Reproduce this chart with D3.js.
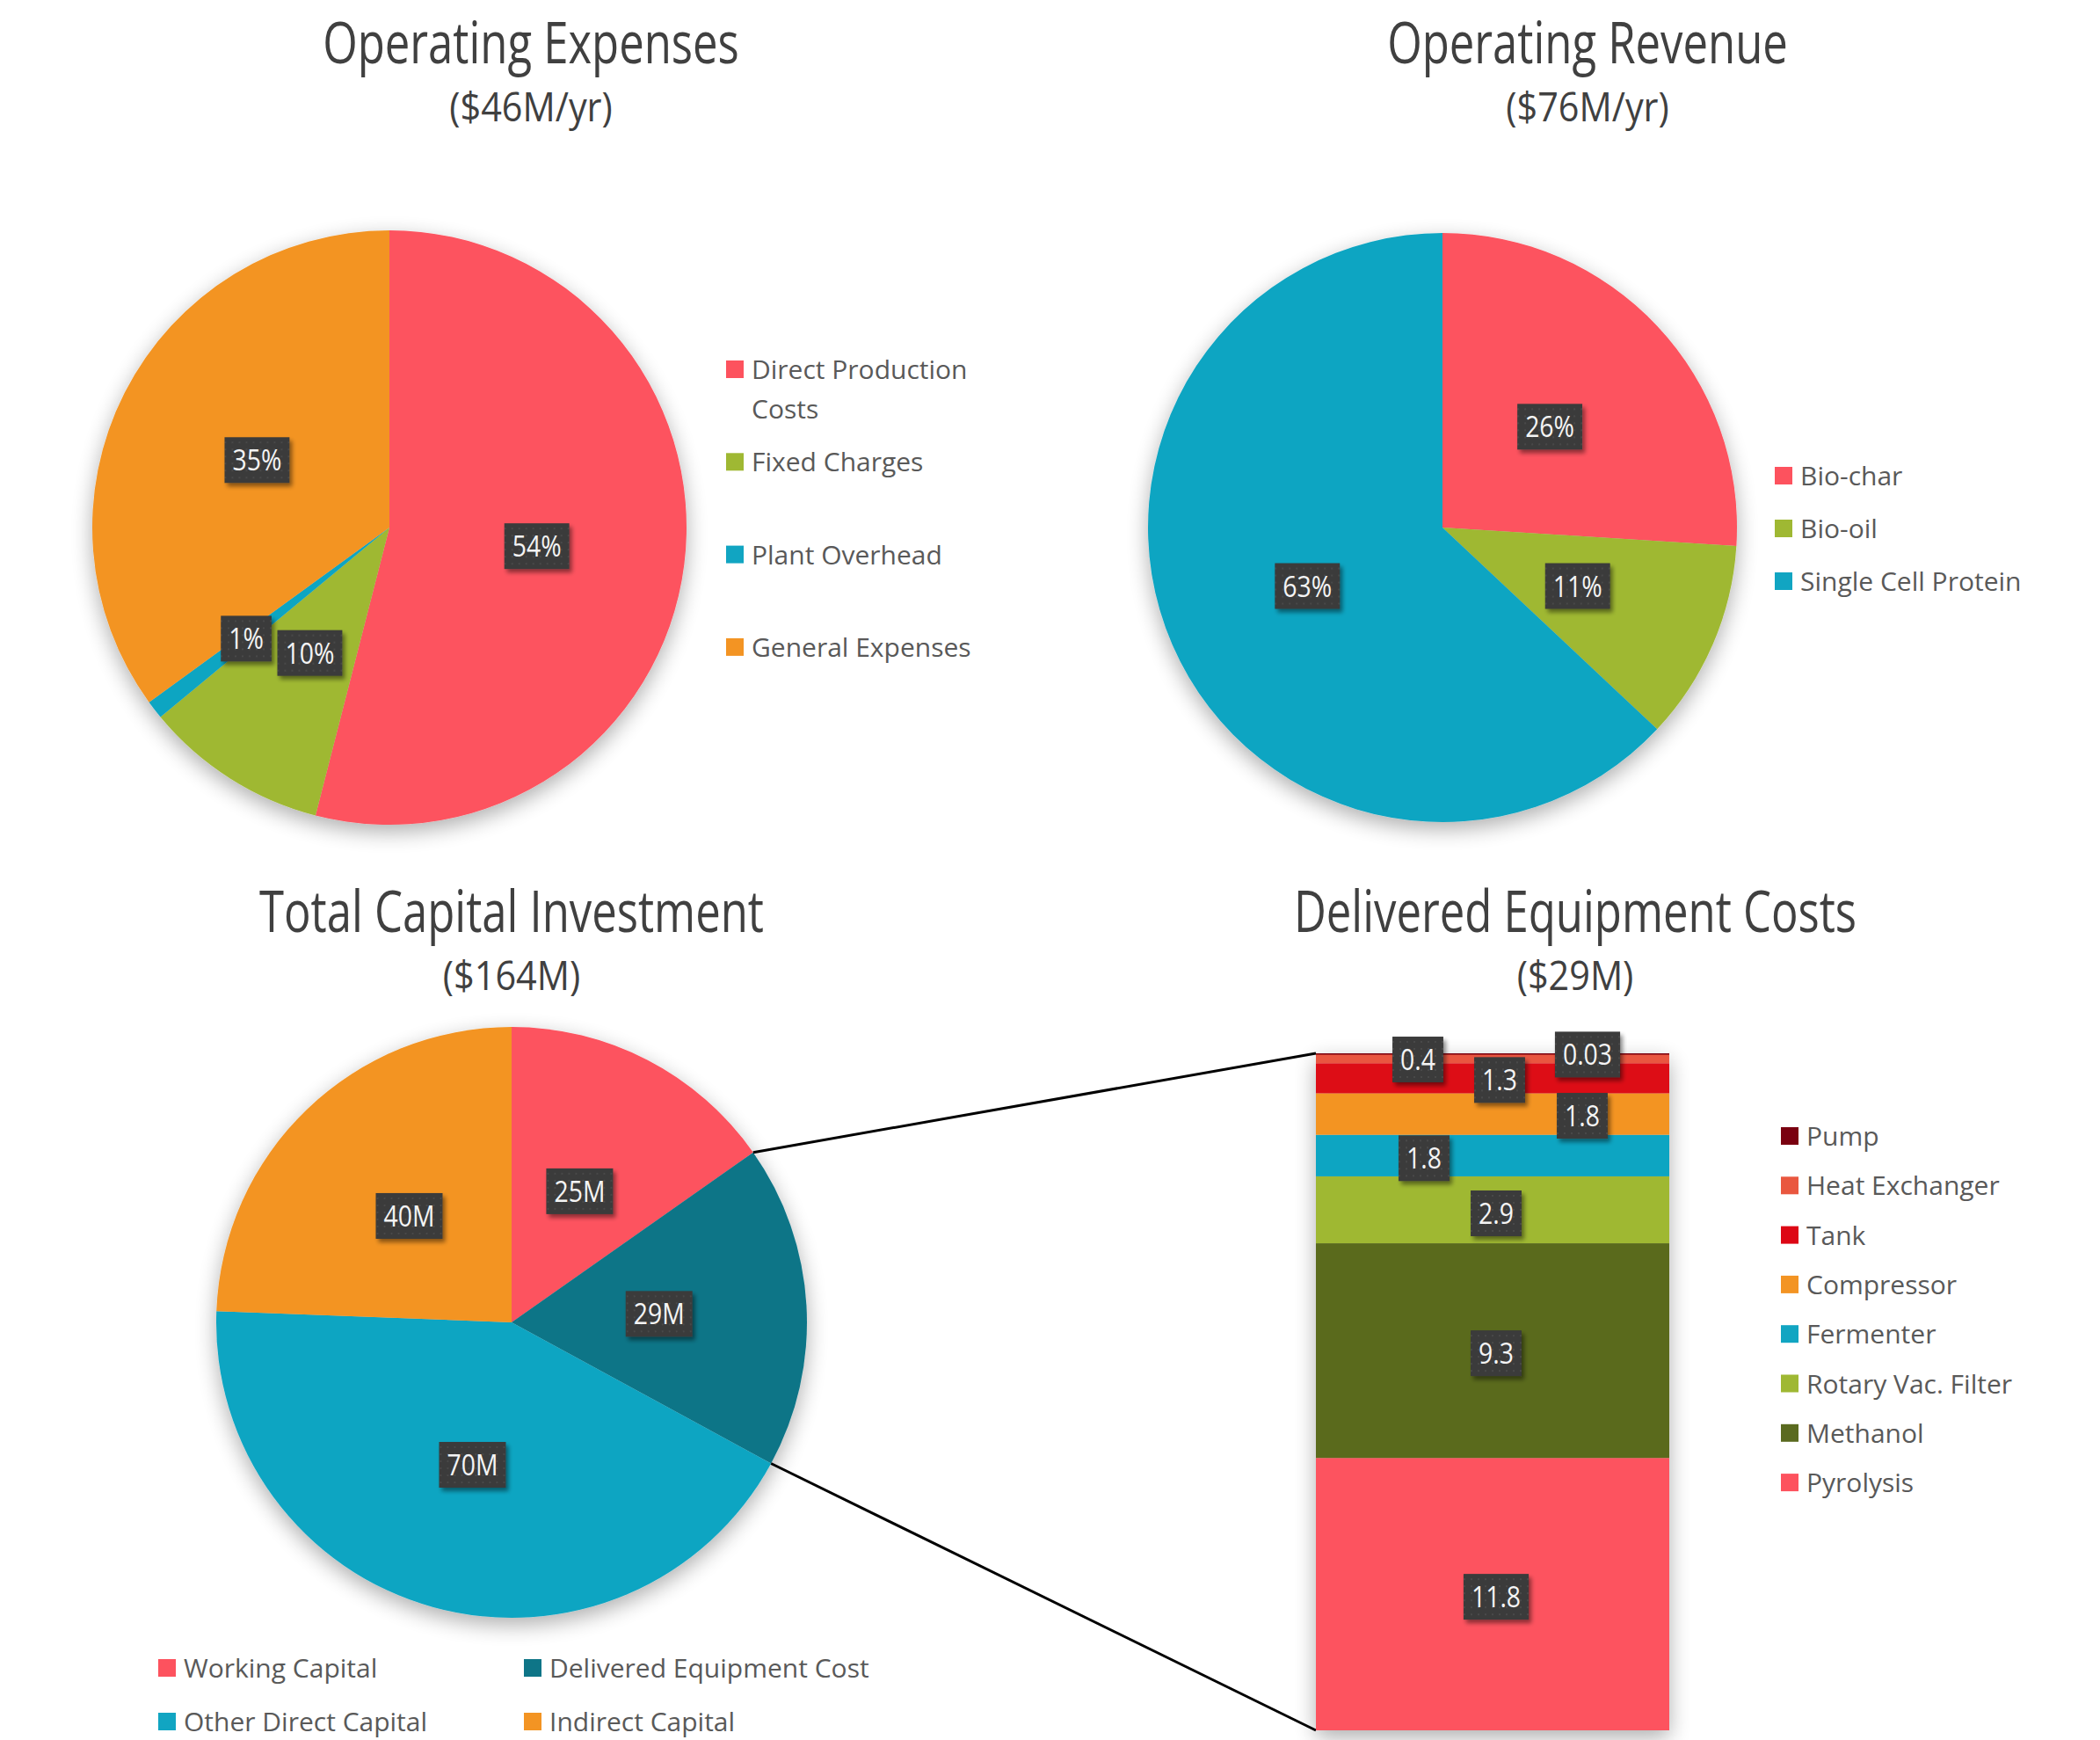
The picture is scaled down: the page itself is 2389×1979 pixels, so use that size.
<!DOCTYPE html>
<html>
<head>
<meta charset="utf-8">
<script src="https://cdn.jsdelivr.net/npm/d3@7"></script>
<style>
  html, body { margin: 0; padding: 0; background: #fff; }
  svg { display: block; font-family: "Open Sans", "Noto Sans", sans-serif; }
</style>
</head>
<body>
<div id="chart"></div>
<script>
// --- Datos ---
const opexCats = ["Direct Production Costs", "Fixed Charges", "Plant Overhead", "General Expenses"];
const opexPct = [54, 10, 1, 35];
const revCats = ["Bio-char", "Bio-oil", "Single Cell Protein"];
const revPct = [26, 11, 63];
const capCats = ["Working Capital", "Delivered Equipment Cost", "Other Direct Capital", "Indirect Capital"];
const capVals = [25, 29, 70, 40];
const equipCats = ["Pyrolysis", "Methanol", "Rotary Vac. Filter", "Fermenter", "Compressor", "Tank", "Heat Exchanger", "Pump"];
const equipVals = [11.8, 9.3, 2.9, 1.8, 1.8, 1.3, 0.4, 0.03];
const titles = ["Operating Expenses", "Operating Revenue", "Total Capital Investment", "Delivered Equipment Costs"];
const subtitles = ["($46M/yr)", "($76M/yr)", "($164M)", "($29M)"];

// --- Colores ---
const RED = "#fd525e", GREEN = "#9fb833", BLUE = "#11a5c2", ORANGE = "#f39423";
const opexColors = [RED, GREEN, BLUE, ORANGE];
const revColors = [RED, GREEN, BLUE];
const capColors = [RED, "#0e7587", BLUE, ORANGE];
const equipColors = [RED, "#5a6a1f", GREEN, BLUE, ORANGE, "#dd0715", "#e9573f", "#7a0010"];

const W = 2389, H = 1979;
const svg = d3.select("#chart").append("svg").attr("width", W).attr("height", H);
svg.append("rect").attr("width", W).attr("height", H).attr("fill", "#fff");

// --- Filtros y patrón ---
const defs = svg.append("defs");
const sh = defs.append("filter").attr("id", "softShadow")
  .attr("x", "-20%").attr("y", "-20%").attr("width", "140%").attr("height", "150%");
sh.append("feGaussianBlur").attr("in", "SourceAlpha").attr("stdDeviation", 12);
sh.append("feOffset").attr("dx", 0).attr("dy", 8).attr("result", "ob");
sh.append("feComponentTransfer").attr("in", "ob").attr("result", "sa")
  .append("feFuncA").attr("type", "linear").attr("slope", 0.32);
let m = sh.append("feMerge");
m.append("feMergeNode").attr("in", "sa");
m.append("feMergeNode").attr("in", "SourceGraphic");

const lsh = defs.append("filter").attr("id", "labelShadow")
  .attr("x", "-20%").attr("y", "-20%").attr("width", "150%").attr("height", "160%");
lsh.append("feGaussianBlur").attr("in", "SourceAlpha").attr("stdDeviation", 2.5);
lsh.append("feOffset").attr("dx", 3).attr("dy", 4).attr("result", "ob");
lsh.append("feComponentTransfer").attr("in", "ob").attr("result", "sa")
  .append("feFuncA").attr("type", "linear").attr("slope", 0.45);
m = lsh.append("feMerge");
m.append("feMergeNode").attr("in", "sa");
m.append("feMergeNode").attr("in", "SourceGraphic");

const pat = defs.append("pattern").attr("id", "dots")
  .attr("width", 8).attr("height", 8).attr("patternUnits", "userSpaceOnUse");
pat.append("rect").attr("width", 8).attr("height", 8).attr("fill", "#3a3a3a");
pat.append("circle").attr("cx", 4).attr("cy", 4).attr("r", 0.9).attr("fill", "#505050");

// --- Ayudantes ---
function addTitle(text, sub, cx, y) {
  svg.append("text").attr("text-anchor", "middle")
    .attr("transform", `translate(${cx},${y}) scale(0.77,1)`)
    .attr("fill", "#404040").style("font-size", "66px").text(text);
  svg.append("text").attr("text-anchor", "middle")
    .attr("transform", `translate(${cx},${y + 66}) scale(0.9,1)`)
    .attr("fill", "#404040").style("font-size", "46px").text(sub);
}

function addLabel(text, cx, cy) {
  const g = svg.append("g").attr("transform", `translate(${cx},${cy})`);
  const rect = g.append("rect").attr("fill", "url(#dots)").attr("filter", "url(#labelShadow)");
  const t = g.append("text").attr("text-anchor", "middle")
    .attr("transform", "translate(0,12) scale(0.86,1)")
    .attr("fill", "#f4f4f4").style("font-size", "33px").text(text);
  const w = t.node().getComputedTextLength() * 0.86 + 18;
  rect.attr("x", -w / 2).attr("y", -26).attr("width", w).attr("height", 52);
}

function addLegend(cats, colors, x, y0, step) {
  cats.forEach((c, i) => {
    const y = y0 + i * step;
    svg.append("rect").attr("x", x).attr("y", y - 10).attr("width", 20).attr("height", 20)
      .attr("fill", colors[i]);
    svg.append("text").attr("x", x + 29).attr("y", y + 11)
      .attr("fill", "#595959").style("font-size", "30px").text(c);
  });
}

function drawPie(values, colors, cx, cy, r, labelFmt, labelR) {
  const pie = d3.pie().sort(null).value(d => d);
  const arcs = pie(values);
  const arc = d3.arc().innerRadius(0).outerRadius(r);
  const g = svg.append("g").attr("transform", `translate(${cx},${cy})`)
    .attr("filter", "url(#softShadow)");
  g.selectAll("path").data(arcs).enter().append("path")
    .attr("d", arc).attr("fill", (d, i) => colors[i]);
  return { arcs, draw: () => arcs.forEach((d, i) => {
    const lr = r * (labelR ? labelR[i] : 0.5);
    const a = (d.startAngle + d.endAngle) / 2;
    addLabel(labelFmt(d.data), cx + lr * Math.sin(a), cy - lr * Math.cos(a));
  }) };
}

// --- Títulos ---
addTitle(titles[0], subtitles[0], 604, 72);
addTitle(titles[1], subtitles[1], 1806, 72);
addTitle(titles[2], subtitles[2], 582, 1060);
addTitle(titles[3], subtitles[3], 1792, 1060);

// --- Gastos operativos ---
const p1 = drawPie(opexPct, opexColors, 443, 600, 338, d => d + "%", [0.5, 0.5, 0.61, 0.5]);
// --- Ingresos ---
const p2 = drawPie(revPct, revColors, 1641, 600, 335, d => d + "%");
// --- Capital ---
const capR = 336, capCx = 582, capCy = 1504;
const p3 = drawPie(capVals, capColors, capCx, capCy, capR, d => d + "M");

// --- Barra apilada de equipos ---
const total = d3.sum(equipVals);
const y = d3.scaleLinear().domain([0, total]).range([1968, 1198]);
const x = d3.scaleBand().domain(["equip"]).range([1497, 1899]).padding(0);
const cum = d3.cumsum(equipVals);
const segs = equipVals.map((v, i) => ({ v, y0: cum[i] - v, y1: cum[i], i }));

// Líneas de conexión desde la porción "Delivered Equipment Cost"
const de = p3.arcs[1];
svg.append("line")
  .attr("x1", capCx + capR * Math.sin(de.startAngle)).attr("y1", capCy - capR * Math.cos(de.startAngle))
  .attr("x2", x("equip")).attr("y2", y(total))
  .attr("stroke", "#000").attr("stroke-width", 3);
svg.append("line")
  .attr("x1", capCx + capR * Math.sin(de.endAngle)).attr("y1", capCy - capR * Math.cos(de.endAngle))
  .attr("x2", x("equip")).attr("y2", y(0))
  .attr("stroke", "#000").attr("stroke-width", 3);

const bar = svg.append("g").attr("filter", "url(#softShadow)");
bar.selectAll("rect").data(segs).enter().append("rect")
  .attr("x", x("equip")).attr("width", x.bandwidth())
  .attr("y", d => y(d.y1)).attr("height", d => Math.max(y(d.y0) - y(d.y1), 1.5))
  .attr("fill", d => equipColors[d.i]);

// etiquetas (desplazamientos manuales para evitar solapes)
const equipNudge = [[4, 3], [4, 3], [4, 4], [-78, 3], [102, 2], [8, 2], [-85, 1], [108, 1]];
segs.forEach((d, i) => {
  const cy = (y(d.y0) + y(d.y1)) / 2;
  addLabel(String(d.v), x("equip") + x.bandwidth() / 2 + equipNudge[i][0], cy + equipNudge[i][1]);
});

p1.draw(); p2.draw(); p3.draw();

// --- Leyendas ---
// Gastos: primera entrada en dos líneas
opexCats.forEach((c, i) => {
  const yy = 420 + i * 105.3;
  svg.append("rect").attr("x", 826).attr("y", yy - 10).attr("width", 20).attr("height", 20)
    .attr("fill", opexColors[i]);
  const t = svg.append("text").attr("x", 855).attr("y", yy + 11)
    .attr("fill", "#595959").style("font-size", "30px");
  if (c === "Direct Production Costs") {
    t.append("tspan").attr("x", 855).text("Direct Production");
    t.append("tspan").attr("x", 855).attr("dy", 45).text("Costs");
  } else t.text(c);
});
addLegend(revCats, revColors, 2019, 541, 60);
capCats.forEach((c, i) => {
  const col = i % 2, row = Math.floor(i / 2);
  const xx = [180, 596][col], yy = [1897, 1958][row];
  svg.append("rect").attr("x", xx).attr("y", yy - 10).attr("width", 20).attr("height", 20)
    .attr("fill", capColors[i]);
  svg.append("text").attr("x", xx + 29).attr("y", yy + 11)
    .attr("fill", "#595959").style("font-size", "30px").text(c);
});
addLegend(equipCats.slice().reverse(), equipColors.slice().reverse(), 2026, 1292, 56.3);
</script>
</body>
</html>
